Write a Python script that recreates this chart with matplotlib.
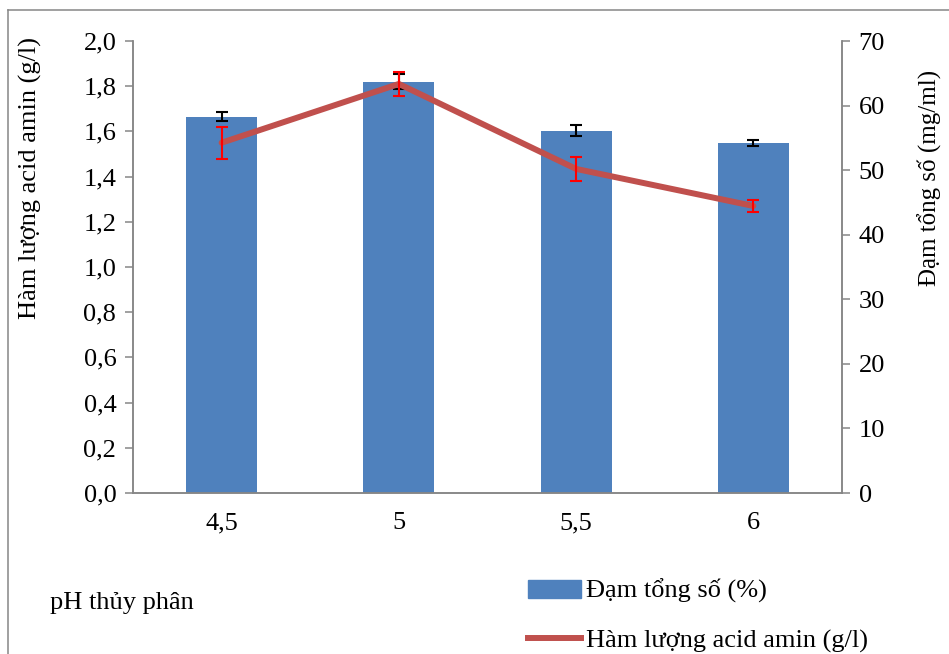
import numpy as np
import matplotlib.pyplot as plt
from matplotlib.ticker import FuncFormatter, MultipleLocator
from matplotlib.patches import Patch
from matplotlib.lines import Line2D

plt.rcParams['font.family'] = ['Liberation Serif', 'DejaVu Serif']

# dữ liệu
ph_labels = ['4,5', '5', '5,5', '6']
dam_tong_so = [58.3, 63.7, 56.1, 54.2]        # trục phải (mg/ml)
dam_err = [0.7, 1.2, 0.85, 0.46]
acid_amin = [1.55, 1.81, 1.434, 1.27]         # trục trái (g/l)
acid_err = [0.071, 0.052, 0.054, 0.028]

BAR_COLOR = '#4F81BD'
LINE_COLOR = '#C0504D'
GRID_GRAY = '#868686'
FS = 19

fig = plt.figure(figsize=(9.49, 6.54), dpi=100)
ax = fig.add_axes([133/949, 1-493/654, (842-133)/949, (493-41)/654])
x = np.arange(len(ph_labels))

# cột: Đạm tổng số, trục phải
ax.bar(x, dam_tong_so, width=0.4, color=BAR_COLOR, zorder=2)
ax.errorbar(x, dam_tong_so, yerr=dam_err, fmt='none', ecolor='black',
            elinewidth=1.5, capsize=4.5, capthick=1.5, zorder=3)
ax.set_xlim(-0.5, 3.5)
ax.set_xticks(x)
ax.set_xticklabels(ph_labels)

# đường: Hàm lượng acid amin, trục trái
ax2 = ax.twinx()
ax2.plot(x, acid_amin, color=LINE_COLOR, lw=4.3, solid_capstyle='round', zorder=3)
ax2.errorbar(x, acid_amin, yerr=acid_err, fmt='none', ecolor='#FF0000',
             elinewidth=1.5, capsize=4.5, capthick=1.5, zorder=4)

# twinx đặt lại vị trí tick, nên chỉnh sau
ax.set_ylim(0, 70)
ax.yaxis.set_major_locator(MultipleLocator(10))
ax.yaxis.tick_right()
ax.yaxis.set_label_position('right')
ax.set_ylabel('Đạm tổng số (mg/ml)', fontsize=FS - 1)
ax.yaxis.set_label_coords(1.107, 0.697)

ax2.set_ylim(0, 2.0)
ax2.yaxis.set_major_locator(MultipleLocator(0.2))
ax2.yaxis.tick_left()
ax2.yaxis.set_label_position('left')
ax2.yaxis.set_major_formatter(FuncFormatter(lambda v, p: f'{v:.1f}'.replace('.', ',')))
ax2.set_ylabel('Hàm lượng acid amin (g/l)', fontsize=FS)
ax2.yaxis.set_label_coords(-0.128, 0.697)

for a in (ax, ax2):
    a.spines['top'].set_visible(False)
    for s in ('left', 'right', 'bottom'):
        a.spines[s].set_color(GRID_GRAY)
        a.spines[s].set_linewidth(1.1)
    a.tick_params(axis='y', direction='out', length=6, width=1.1,
                  color=GRID_GRAY, labelsize=FS, pad=6)
ax.tick_params(axis='x', length=0, labelsize=FS, pad=14)

fig.text(50/949, 1-603/654, 'pH thủy phân', fontsize=FS, va='center', ha='left')

handles = [Patch(color=BAR_COLOR), Line2D([], [], color=LINE_COLOR, lw=4.3)]
fig.legend(handles, ['Đạm tổng số (%)', 'Hàm lượng acid amin (g/l)'],
           loc='upper left', bbox_to_anchor=(528/949, 1-579/654),
           frameon=False, fontsize=FS, handlelength=2.0, handletextpad=0.2,
           labelspacing=0.97, borderpad=0, borderaxespad=0)

# khung viền ngoài (bị cắt ở phải và dưới)
fig.add_artist(Line2D([8/949, 8/949], [0, 1-10/654], color=GRID_GRAY, lw=1.1))
fig.add_artist(Line2D([8/949, 1], [1-10/654, 1-10/654], color=GRID_GRAY, lw=1.1))

fig.savefig('out.png', dpi=100)
